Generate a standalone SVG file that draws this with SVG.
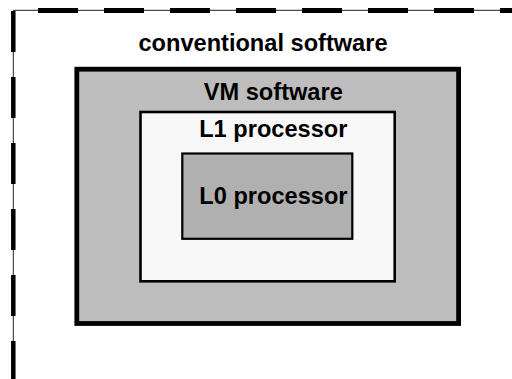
<svg xmlns="http://www.w3.org/2000/svg" width="512" height="379" viewBox="0 0 512 379">
<style>
text { font-family: "Liberation Sans", Arial, sans-serif; font-weight: bold; font-size: 23.6px; fill: #000; }
.thin { stroke: #222; stroke-width: 1; fill: none; }
.dash { stroke: #000; fill: none; }
</style>
<rect x="0" y="0" width="512" height="379" fill="#fff"/>
<g id="conventional-software">
  <path class="thin" d="M13.3,10.3 H512 M13.3,10.3 V379"/>
  <line class="dash" x1="38" y1="10.5" x2="512" y2="10.5" stroke-width="5" stroke-dasharray="40 26"/>
  <line class="dash" x1="13.3" y1="11" x2="13.3" y2="379" stroke-width="4.5" stroke-dasharray="41 25"/>
  <text x="263" y="51" text-anchor="middle">conventional software</text>
</g>
<g id="vm-software">
  <rect x="76.8" y="69.2" width="381.8" height="254.3" fill="#bdbdbd" stroke="#000" stroke-width="4.8"/>
  <text x="273.3" y="100" text-anchor="middle">VM software</text>
</g>
<g id="l1-processor">
  <rect x="140.5" y="112" width="254.2" height="169.3" fill="#f8f8f8" stroke="#000" stroke-width="2.6"/>
  <text x="273.3" y="137.3" text-anchor="middle">L1 processor</text>
</g>
<g id="l0-processor">
  <rect x="182.3" y="153.5" width="170" height="85.3" fill="#b0b0b0" stroke="#000" stroke-width="2.2"/>
  <text x="199.3" y="204">L0 processor</text>
</g>
</svg>
